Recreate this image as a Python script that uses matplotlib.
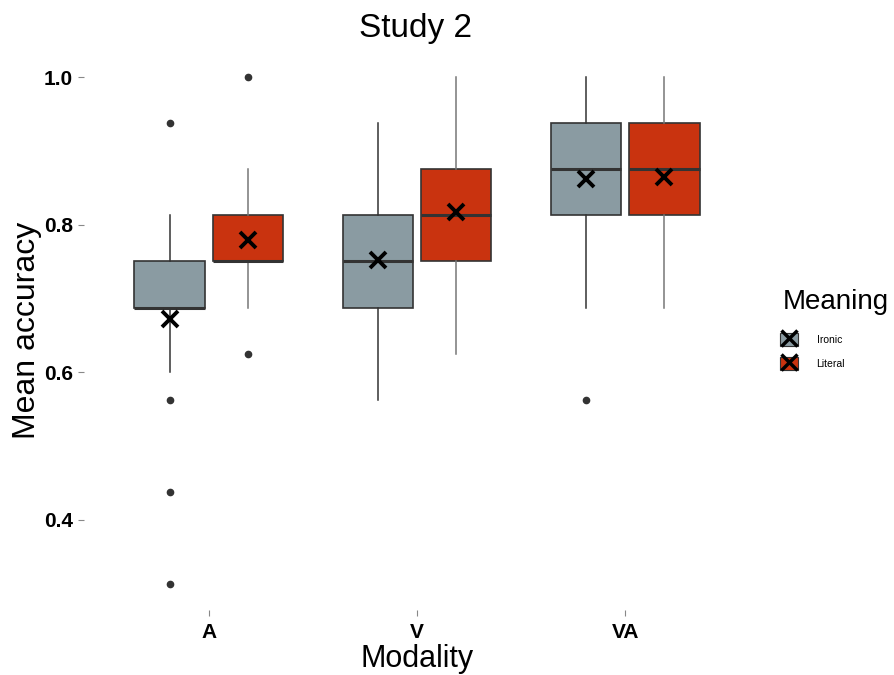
import numpy as np
import matplotlib
matplotlib.use('Agg')
import matplotlib.pyplot as plt
from matplotlib.patches import Patch
from matplotlib.lines import Line2D
from matplotlib.legend_handler import HandlerTuple

plt.rcParams['font.family'] = ['Liberation Sans', 'DejaVu Sans']

# donnees
modalites = ['A', 'V', 'VA']
groupes = ['Ironic', 'Literal']
couleurs = {'Ironic': '#8A9BA2', 'Literal': '#C9330F'}

q1 = {'Ironic': [0.6875, 0.6875, 0.8125], 'Literal': [0.75, 0.75, 0.8125]}
mediane = {'Ironic': [0.6875, 0.75, 0.875], 'Literal': [0.75, 0.8125, 0.875]}
q3 = {'Ironic': [0.75, 0.8125, 0.9375], 'Literal': [0.8125, 0.875, 0.9375]}
whis_bas = {'Ironic': [0.6, 0.5625, 0.6875], 'Literal': [0.6875, 0.625, 0.6875]}
whis_haut = {'Ironic': [0.8125, 0.9375, 1.0], 'Literal': [0.875, 1.0, 1.0]}
moyenne = {'Ironic': [0.672, 0.752, 0.862], 'Literal': [0.779, 0.817, 0.864]}
outliers = {'Ironic': [[0.9375, 0.5625, 0.4375, 0.3125], [], [0.5625]],
            'Literal': [[1.0, 0.625], [], []]}

fig = plt.figure(figsize=(8.95, 6.75), dpi=100)
ax = fig.add_axes([84 / 895, 1 - 609.5 / 675, 666 / 895, 557.5 / 675])

decalage = {'Ironic': -0.1875, 'Literal': 0.1875}
largeur = 0.34
x = np.arange(1, len(modalites) + 1)

for g in groupes:
    stats = []
    for i in range(len(modalites)):
        stats.append(dict(med=mediane[g][i], q1=q1[g][i], q3=q3[g][i],
                          whislo=whis_bas[g][i], whishi=whis_haut[g][i],
                          fliers=outliers[g][i], mean=moyenne[g][i]))
    wcol = '#333333' if g == 'Ironic' else '#777777'
    ax.bxp(stats, positions=x + decalage[g], widths=largeur, patch_artist=True,
           showmeans=True, showcaps=False, manage_ticks=False,
           boxprops=dict(facecolor=couleurs[g], edgecolor='#333333', linewidth=1.2),
           medianprops=dict(color='#333333', linewidth=2.2),
           whiskerprops=dict(color=wcol, linewidth=1.1),
           flierprops=dict(marker='o', markersize=4.5, markerfacecolor='#333333',
                           markeredgecolor='#333333'),
           meanprops=dict(marker='x', markersize=12, markeredgecolor='black',
                          markeredgewidth=2.8))

ax.set_xlim(0.4, 3.6)
ax.set_ylim(0.278, 1.034)
ax.set_xticks(x)
ax.set_xticklabels(modalites, fontsize=15, fontweight='bold')
ax.set_yticks([0.4, 0.6, 0.8, 1.0])
ax.set_yticklabels(['0.4', '0.6', '0.8', '1.0'], fontsize=15, fontweight='bold')
ax.tick_params(length=4, color='#888888', width=0.8, pad=4)
ax.tick_params(axis='x', pad=6)
for s in ax.spines.values():
    s.set_visible(False)

ax.set_xlabel('Modality', fontsize=22, labelpad=1)
ax.set_ylabel('Mean accuracy', fontsize=23, labelpad=1)
fig.text(416 / 895, 1 - 29 / 675, 'Study 2', fontsize=24, ha='center', va='center')

# legende
fig.text(783 / 895, 1 - 302 / 675, 'Meaning', fontsize=20, ha='left', va='center')
handles = []
for g in groupes:
    handles.append((Patch(facecolor='#EBEBEB', edgecolor='#EBEBEB'),
                    Patch(facecolor=couleurs[g], edgecolor='#333333', linewidth=0.8),
                    Line2D([], [], marker='x', linestyle='none', markersize=11,
                           markeredgecolor='black', markeredgewidth=2.5)))
leg = fig.legend(handles, groupes, loc='upper left',
                 bbox_to_anchor=(778 / 895, 1 - 331 / 675), frameon=False,
                 fontsize=7.5, handlelength=1.7, handleheight=1.5,
                 handletextpad=1.8, labelspacing=1.1, borderaxespad=0, borderpad=0.2,
                 handler_map={tuple: HandlerTuple(ndivide=1, pad=0)})

fig.savefig('out.png', dpi=100)
